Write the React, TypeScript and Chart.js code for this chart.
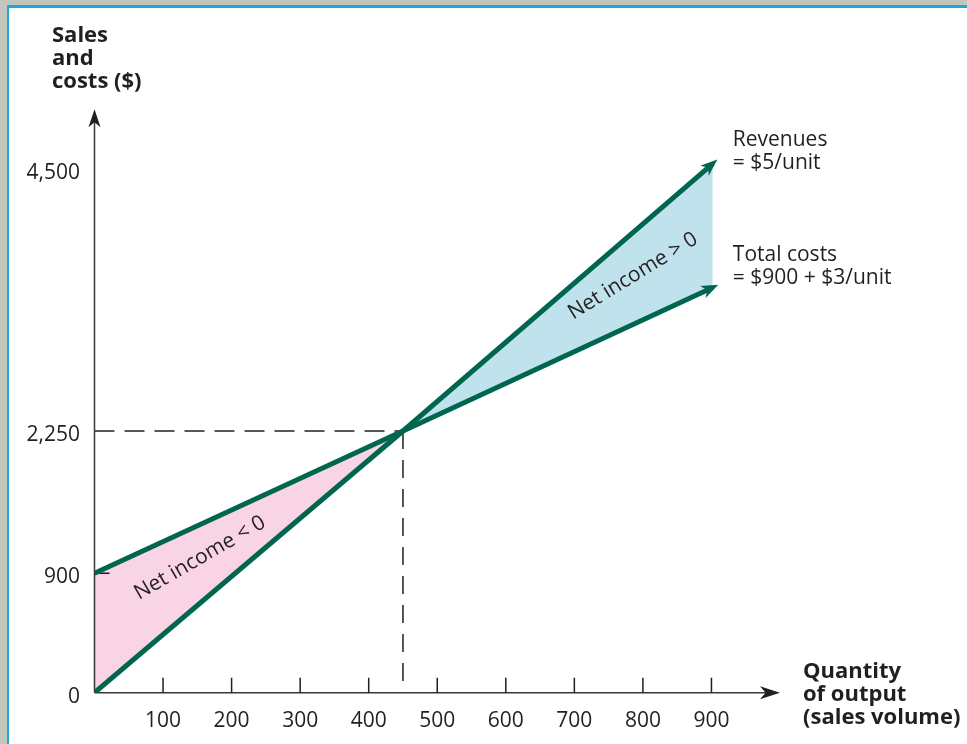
import React, { useEffect, useRef } from 'react';
import { Chart, registerables, LinearScale } from 'chart.js';

// ---- data ----
const quantity = [0, 450, 902];
const revenues = [0, 2250, 4550];
const totalCosts = [900, 2250, 3485];
const xTickValues = [100, 200, 300, 400, 500, 600, 700, 800, 900];
const xTickLabels = ['100', '200', '300', '400', '500', '600', '700', '800', '900'];
const yTickValues = [0, 900, 2250, 4500];
const yTickLabels = ['0', '900', '2,250', '4,500'];
const yTickMarks = [900];
const breakEvenQuantity = 450;
const breakEvenValue = 2250;
const yAxisTitle = ['Sales', 'and', 'costs ($)'];
const xAxisTitle = ['Quantity', 'of output', '(sales volume)'];
const revenueLabel = ['Revenues', '= $5/unit'];
const costLabel = ['Total costs', '= $900 + $3/unit'];
const lossLabel = 'Net income < 0';
const profitLabel = 'Net income > 0';

// ---- the picture's y axis is not drawn to scale below 2,250 ----
const WARP_VALUES = [0, 900, 2250];
const WARP_UNITS = [0, 1027, 2250];
function warp(v: number): number {
  if (v >= WARP_VALUES[2]) return v;
  for (let i = 0; i < WARP_VALUES.length - 1; i++) {
    const a = WARP_VALUES[i], b = WARP_VALUES[i + 1];
    if (v <= b) {
      const t = (v - a) / (b - a);
      return WARP_UNITS[i] + t * (WARP_UNITS[i + 1] - WARP_UNITS[i]);
    }
  }
  return v;
}
function unwarp(u: number): number {
  if (u >= WARP_UNITS[2]) return u;
  for (let i = 0; i < WARP_UNITS.length - 1; i++) {
    const a = WARP_UNITS[i], b = WARP_UNITS[i + 1];
    if (u <= b) {
      const t = (u - a) / (b - a);
      return WARP_VALUES[i] + t * (WARP_VALUES[i + 1] - WARP_VALUES[i]);
    }
  }
  return u;
}

class WarpedScale extends (LinearScale as any) {
  static id = 'warped';
  static defaults = {};
  getPixelForValue(v: number) {
    return super.getPixelForValue(warp(v));
  }
  getValueForPixel(p: number) {
    return unwarp(super.getValueForPixel(p));
  }
}

Chart.register(...registerables, WarpedScale as any);

const GREEN = '#00664f';
const PINK = '#f9d4e5';
const BLUE = '#c0e2ed';
const INK = '#231f20';
const FONT = '"Open Sans", "Noto Sans", sans-serif';

function arrowHead(ctx: CanvasRenderingContext2D, tipX: number, tipY: number, dx: number, dy: number, len: number, half: number, color: string) {
  const nx = -dy, ny = dx;
  ctx.save();
  ctx.fillStyle = color;
  ctx.beginPath();
  ctx.moveTo(tipX, tipY);
  ctx.lineTo(tipX - dx * len + nx * half, tipY - dy * len + ny * half);
  ctx.lineTo(tipX - dx * len * 0.72, tipY - dy * len * 0.72);
  ctx.lineTo(tipX - dx * len - nx * half, tipY - dy * len - ny * half);
  ctx.closePath();
  ctx.fill();
  ctx.restore();
}

const diagramPlugin = {
  id: 'diagram',
  beforeDatasetsDraw(chart: any) {
    const { ctx, chartArea } = chart;
    const xs = chart.scales.x, ys = chart.scales.y;
    const x0 = xs.getPixelForValue(0);
    const y0 = ys.getPixelForValue(0);
    const bx = xs.getPixelForValue(breakEvenQuantity);
    const by = ys.getPixelForValue(breakEvenValue);
    ctx.save();
    ctx.strokeStyle = INK;
    ctx.lineWidth = 1.5;
    // dashed guides
    ctx.setLineDash([20, 10]);
    ctx.beginPath();
    ctx.moveTo(x0, by);
    ctx.lineTo(bx, by);
    ctx.stroke();
    ctx.setLineDash([18, 11]);
    ctx.beginPath();
    ctx.moveTo(bx, by);
    ctx.lineTo(bx, y0);
    ctx.stroke();
    ctx.setLineDash([]);
    // axes
    ctx.strokeStyle = '#3a3738';
    ctx.beginPath();
    ctx.moveTo(x0, y0);
    ctx.lineTo(x0, chartArea.top + 10);
    ctx.moveTo(x0, y0);
    ctx.lineTo(chartArea.right - 10, y0);
    ctx.stroke();
    arrowHead(ctx, x0, chartArea.top - 2, 0, -1, 18, 6, INK);
    arrowHead(ctx, chartArea.right, y0, 1, 0, 20, 6.5, INK);
    // tick marks
    ctx.strokeStyle = INK;
    ctx.beginPath();
    xTickValues.forEach((v) => {
      const px = xs.getPixelForValue(v);
      ctx.moveTo(px, y0);
      ctx.lineTo(px, y0 - 15);
    });
    yTickMarks.forEach((v) => {
      const py = ys.getPixelForValue(v);
      ctx.moveTo(x0, py);
      ctx.lineTo(x0 + 15, py);
    });
    ctx.stroke();
    ctx.restore();
  },
  afterDatasetsDraw(chart: any) {
    const { ctx } = chart;
    chart.data.datasets.forEach((ds: any, i: number) => {
      const meta = chart.getDatasetMeta(i);
      const pts = meta.data;
      const a = pts[pts.length - 2], b = pts[pts.length - 1];
      let dx = b.x - a.x, dy = b.y - a.y;
      const l = Math.hypot(dx, dy);
      dx /= l; dy /= l;
      arrowHead(ctx, b.x + dx * 6, b.y + dy * 6, dx, dy, 17, 6.5, GREEN);
    });
  },
  afterDraw(chart: any) {
    const { ctx } = chart;
    const xs = chart.scales.x, ys = chart.scales.y;
    const y0 = ys.getPixelForValue(0);
    ctx.save();
    ctx.fillStyle = INK;
    // tick labels
    ctx.font = `21px ${FONT}`;
    ctx.textAlign = 'center';
    ctx.textBaseline = 'middle';
    xTickValues.forEach((v, i) => {
      ctx.fillText(xTickLabels[i], xs.getPixelForValue(v), y0 + 28);
    });
    ctx.textAlign = 'right';
    yTickValues.forEach((v, i) => {
      ctx.fillText(yTickLabels[i], 80, ys.getPixelForValue(v) + 4);
    });
    // axis titles
    ctx.font = `bold 22px ${FONT}`;
    ctx.textAlign = 'left';
    ctx.textBaseline = 'alphabetic';
    yAxisTitle.forEach((t, i) => ctx.fillText(t, 52, 42 + i * 23));
    xAxisTitle.forEach((t, i) => ctx.fillText(t, 803, 678 + i * 23));
    // line labels
    ctx.font = `21px ${FONT}`;
    const revMeta = chart.getDatasetMeta(0).data;
    const costMeta = chart.getDatasetMeta(1).data;
    const rEnd = revMeta[revMeta.length - 1];
    const cEnd = costMeta[costMeta.length - 1];
    revenueLabel.forEach((t, i) => ctx.fillText(t, rEnd.x + 20, 146 + i * 23));
    costLabel.forEach((t, i) => ctx.fillText(t, cEnd.x + 20, cEnd.y - 26 + i * 23));
    // region labels
    ctx.textAlign = 'center';
    ctx.textBaseline = 'middle';
    ctx.save();
    ctx.translate(200, 558);
    ctx.rotate((-30 * Math.PI) / 180);
    ctx.fillText(lossLabel, 0, 0);
    ctx.restore();
    ctx.save();
    ctx.translate(633, 276);
    ctx.rotate((-31.5 * Math.PI) / 180);
    ctx.fillText(profitLabel, 0, 0);
    ctx.restore();
    ctx.restore();
  },
};

export default function App() {
  const ref = useRef<HTMLCanvasElement>(null);
  useEffect(() => {
    if (!ref.current) return;
    const chart = new Chart(ref.current, {
      type: 'line',
      data: {
        datasets: [
          {
            label: 'Revenues',
            data: quantity.map((x, i) => ({ x, y: revenues[i] })),
            borderColor: GREEN,
            borderWidth: 5,
            pointRadius: 0,
            tension: 0,
            fill: { target: 1, above: BLUE, below: PINK },
          },
          {
            label: 'Total costs',
            data: quantity.map((x, i) => ({ x, y: totalCosts[i] })),
            borderColor: GREEN,
            borderWidth: 5,
            pointRadius: 0,
            tension: 0,
            fill: false,
          },
        ],
      },
      options: {
        animation: false,
        responsive: false,
        events: [],
        layout: { padding: { left: 94.5, right: 187, top: 111.2, bottom: 51.3 } },
        scales: {
          x: { type: 'linear', min: 0, max: 1000, display: false },
          y: { type: 'warped' as any, min: 0, max: 5000, display: false },
        },
        plugins: {
          legend: { display: false },
          tooltip: { enabled: false },
          filler: { drawTime: 'beforeDatasetsDraw' },
        },
      } as any,
      plugins: [diagramPlugin],
    });
    return () => chart.destroy();
  }, []);
  return (
    <div style={{ position: 'fixed', left: 0, top: 0, width: 967, height: 744, background: '#c4c5bb', overflow: 'hidden' }}>
      <div
        style={{
          position: 'absolute',
          left: 7,
          top: 5,
          right: 0,
          bottom: 0,
          background: '#ffffff',
          borderLeft: '2px solid #19a8df',
          borderTop: '3px solid #19a8df',
        }}
      />
      <canvas ref={ref} width={967} height={744} style={{ position: 'absolute', left: 0, top: 0 }} />
    </div>
  );
}
